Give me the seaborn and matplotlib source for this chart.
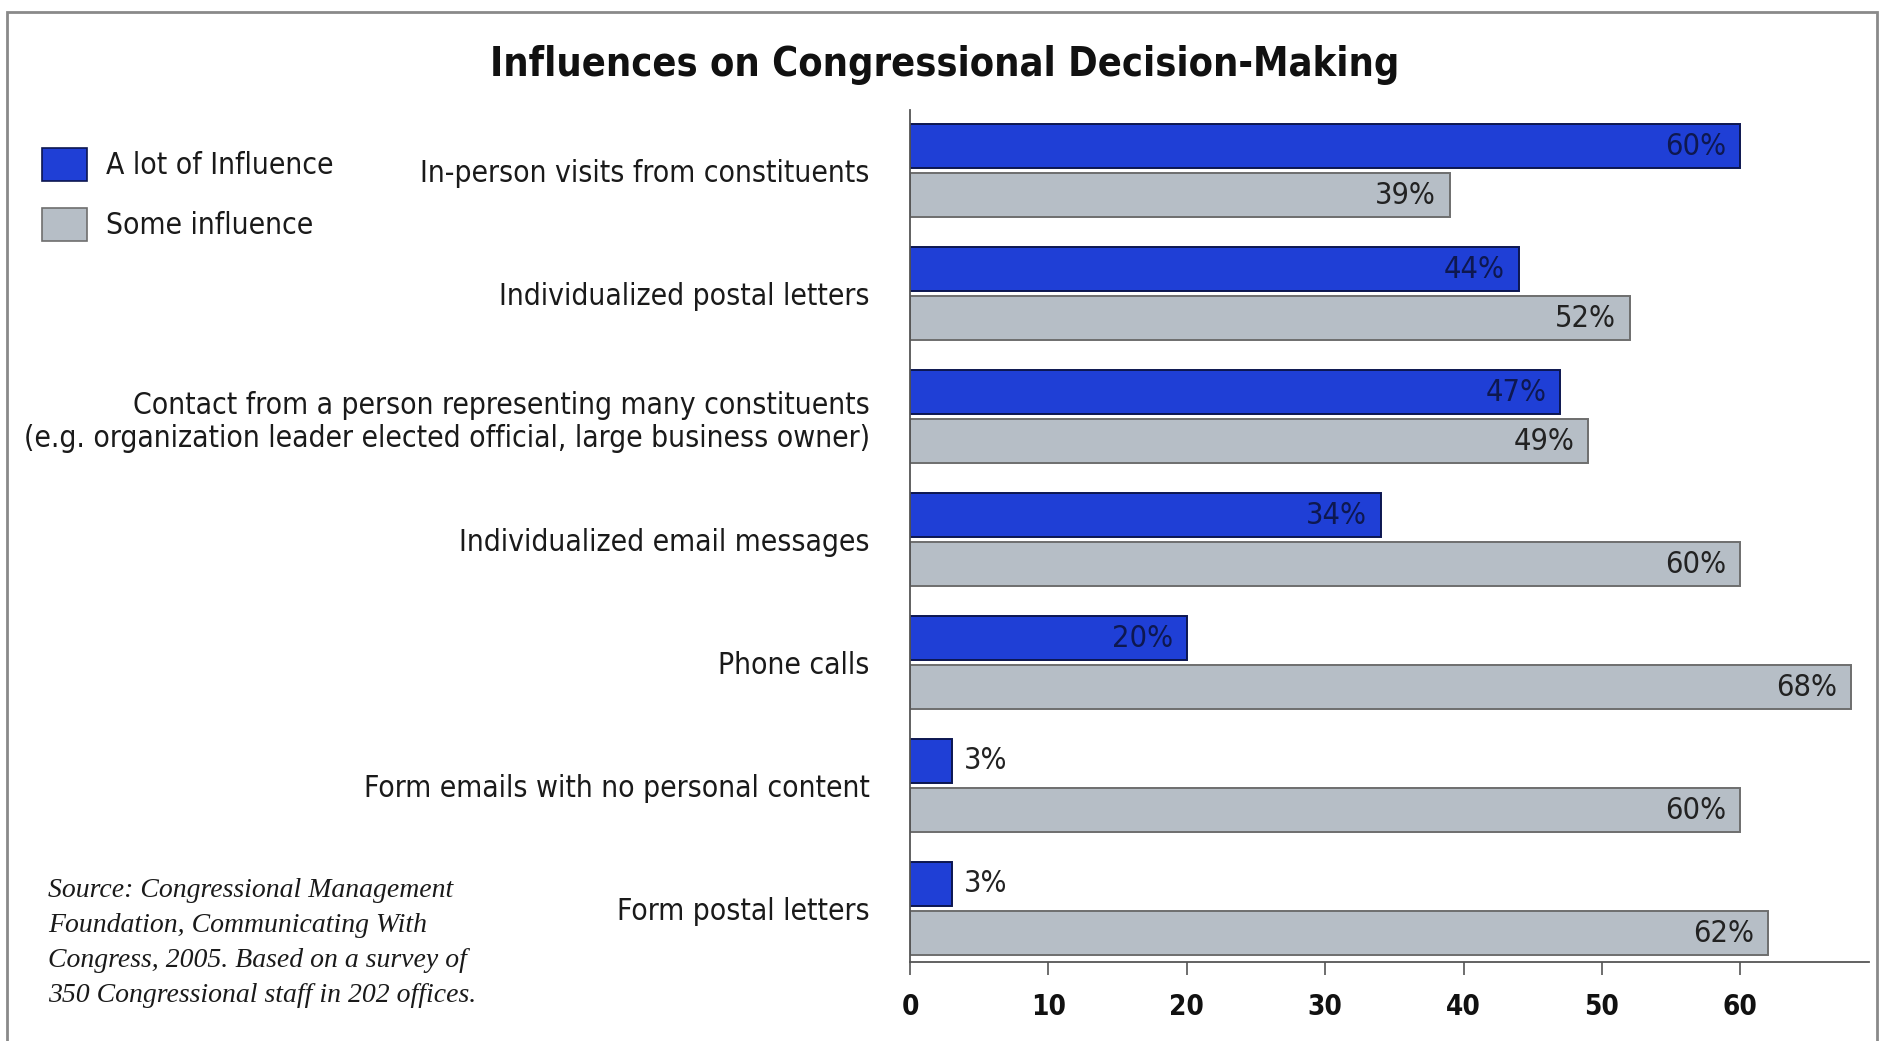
import pandas as pd
import seaborn as sns
import matplotlib.pyplot as plt
from matplotlib import font_manager as fm
from matplotlib.patches import Patch, Rectangle

# Veriler
categories = [
    "In-person visits from constituents",
    "Individualized postal letters",
    "Contact from a person representing many constituents\n"
    "(e.g. organization leader elected official, large business owner)",
    "Individualized email messages",
    "Phone calls",
    "Form emails with no personal content",
    "Form postal letters",
]
a_lot = [60, 44, 47, 34, 20, 3, 3]
some = [39, 52, 49, 60, 68, 60, 62]
levels = ["A lot of Influence", "Some influence"]
x_ticks = [0, 10, 20, 30, 40, 50, 60]

source_text = ("Source: Congressional Management\n"
               "Foundation, Communicating With\n"
               "Congress, 2005. Based on a survey of\n"
               "350 Congressional staff in 202 offices.")

df = pd.DataFrame({
    "category": categories * 2,
    "value": a_lot + some,
    "level": [levels[0]] * len(categories) + [levels[1]] * len(categories),
})

sns.set_theme(style="white")

# dar (condensed) bir yazi tipi varsa onu kullan
names = {f.name for f in fm.fontManager.ttflist}
if "Liberation Sans Narrow" in names:
    FONT, STRETCH = "Liberation Sans Narrow", "normal"
else:
    FONT, STRETCH = "DejaVu Sans", "condensed"
plt.rcParams["font.family"] = [FONT, "DejaVu Sans"]
plt.rcParams["font.stretch"] = STRETCH

blue = "#1f3fd6"
gray = "#b6bec6"
blue_edge = "#0c1650"
gray_edge = "#6e6e6e"

fig = plt.figure(figsize=(18.85, 10.41), dpi=100)
ax = fig.add_axes([0.4828, 0.0759, 0.5087, 0.8184])

sns.barplot(data=df, y="category", x="value", hue="level", orient="h",
            palette=[blue, gray], width=0.8, legend=False, ax=ax,
            saturation=1, errorbar=None)

# cubuklar arasinda ince bosluk
for cont, ec, tc in zip(ax.containers, [blue_edge, gray_edge], ["#0e1850", "#222222"]):
    for bar in cont:
        y0 = bar.get_y()
        h = bar.get_height()
        bar.set_height(h * 0.9)
        bar.set_y(y0 + h * 0.05)
        bar.set_edgecolor(ec)
        bar.set_linewidth(1.4)
        w = bar.get_width()
        yc = bar.get_y() + bar.get_height() / 2
        if w > 10:
            ax.annotate(f"{w:.0f}%", (w, yc), xytext=(-10, 0),
                        textcoords="offset points", ha="right", va="center",
                        fontsize=22, color=tc)
        else:
            ax.annotate(f"{w:.0f}%", (w, yc), xytext=(9, 0),
                        textcoords="offset points", ha="left", va="center",
                        fontsize=22, color="#222222")

ax.set_xlim(0, 69.3)
ax.set_ylim(6.435, -0.494)
ax.set_xticks(x_ticks)
ax.set_xlabel("")
ax.set_ylabel("")
ax.tick_params(axis="y", length=0, pad=29, labelsize=21.5, labelcolor="#1a1a1a")
ax.tick_params(axis="x", bottom=True, length=9, width=1.2, color="#555555",
               direction="out", pad=13, labelsize=20, labelcolor="#111111")
for lbl in ax.get_xticklabels():
    lbl.set_fontweight("bold")
for lbl in ax.get_yticklabels():
    lbl.set_multialignment("right")

for s in ["top", "right"]:
    ax.spines[s].set_visible(False)
for s in ["left", "bottom"]:
    ax.spines[s].set_color("#555555")
    ax.spines[s].set_linewidth(1.3)

fig.text(0.501, 0.938, "Influences on Congressional Decision-Making",
         ha="center", va="center", fontsize=28.5, fontweight="bold", color="#111111")

handles = [Patch(facecolor=blue, edgecolor=blue_edge, linewidth=1.2),
           Patch(facecolor=gray, edgecolor=gray_edge, linewidth=1.2)]
fig.legend(handles, levels, loc="upper left", bbox_to_anchor=(0.0223, 0.858),
           frameon=False, fontsize=21.5, handlelength=1.5, handleheight=1.32,
           handletextpad=0.65, labelspacing=0.9, borderpad=0, borderaxespad=0,
           labelcolor="#1a1a1a")

fig.text(0.0255, 0.157, source_text, ha="left", va="top", fontsize=20,
         family="Liberation Serif", style="italic", stretch="normal",
         linespacing=1.54, color="#1a1a1a")

# dis cerceve
fig.add_artist(Rectangle((0.0037, -0.01), 0.9920, 0.9985, transform=fig.transFigure,
                         fill=False, edgecolor="#8a8a8a", linewidth=2))

fig.savefig("out.png", dpi=100)
